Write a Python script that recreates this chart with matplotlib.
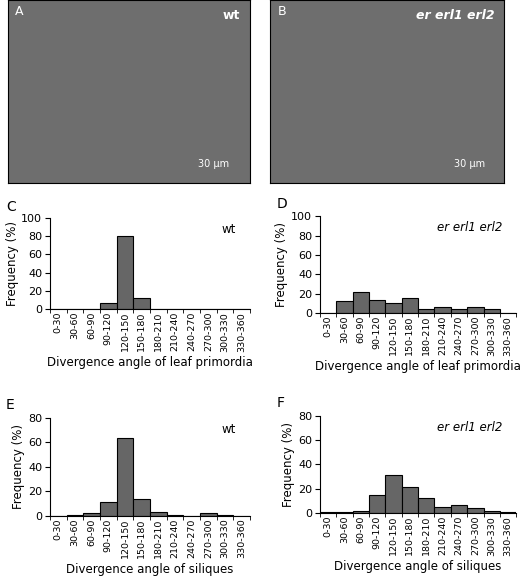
import numpy as np
import matplotlib
matplotlib.use("Agg")
import matplotlib.pyplot as plt

# ── Data ───────────────────────────────────────────────────────────────────────
BINS = ["0-30", "30-60", "60-90", "90-120", "120-150", "150-180",
        "180-210", "210-240", "240-270", "270-300", "300-330", "330-360"]
leaf_wt  = [0, 0, 0, 7, 80, 12, 0, 0, 0, 0, 0, 0]
leaf_mut = [0, 12, 22, 14, 10, 16, 4, 6, 4, 6, 4, 0]
sil_wt   = [0, 1, 2.5, 11, 64, 14, 3, 1, 0, 2.5, 1, 0]
sil_mut  = [1, 0.5, 2, 15, 31, 21, 12, 5, 7, 4, 2, 0.5]

fig = plt.figure(figsize=(5.2, 5.83), dpi=100)

# ── SEM image placeholders ─────────────────────────────────────────────────────
for rect, letter, tag, italic in [((0.015, 0.686, 0.465, 0.314), "A", "wt", False),
                                  ((0.52, 0.686, 0.45, 0.314), "B", "er erl1 erl2", True)]:
    ax = fig.add_axes(rect)
    ax.set_facecolor("#6e6e6e")
    ax.set_xticks([]); ax.set_yticks([])
    ax.text(0.03, 0.97, letter, transform=ax.transAxes, color="white", fontsize=9, va="top")
    ax.text(0.96, 0.95, tag, transform=ax.transAxes, color="white", fontsize=9, va="top",
            ha="right", weight="bold", style="italic" if italic else "normal")
    ax.text(0.85, 0.09, "30 µm", transform=ax.transAxes, color="white", fontsize=7, ha="center")

# ── Histograms ─────────────────────────────────────────────────────────────────
panels = [
    ((0.096, 0.47, 0.385, 0.156), leaf_wt, 100, "C", "wt", False, "Divergence angle of leaf primordia"),
    ((0.615, 0.463, 0.378, 0.166), leaf_mut, 100, "D", "er erl1 erl2", True, "Divergence angle of leaf primordia"),
    ((0.096, 0.115, 0.385, 0.168), sil_wt, 80, "E", "wt", False, "Divergence angle of siliques"),
    ((0.615, 0.12, 0.378, 0.167), sil_mut, 80, "F", "er erl1 erl2", True, "Divergence angle of siliques"),
]
x = np.arange(len(BINS))
for rect, vals, ymax, letter, tag, italic, xlabel in panels:
    ax = fig.add_axes(rect)
    ax.bar(x, vals, width=1.0, color="#666666", edgecolor="black", linewidth=0.8)
    ax.set_xlim(-0.5, len(BINS) - 0.5)
    ax.set_ylim(0, ymax)
    ax.set_yticks(np.arange(0, ymax + 1, 20))
    ax.set_xticks(x)
    ax.set_xticklabels(BINS, rotation=90, fontsize=6.8)
    ax.set_xticks(np.arange(-0.5, len(BINS)), minor=True)
    ax.tick_params(axis="x", which="major", length=0, pad=2)
    ax.tick_params(axis="x", which="minor", length=3)
    ax.tick_params(axis="y", labelsize=8, pad=2)
    for s in ("top", "right"):
        ax.spines[s].set_visible(False)
    ax.set_ylabel("Frequency (%)", fontsize=8.5, labelpad=2)
    ax.set_xlabel(xlabel, fontsize=8.5, labelpad=3)
    ax.text(0.93, 0.95, tag, transform=ax.transAxes, ha="right", va="top", fontsize=8.5,
            style="italic" if italic else "normal")
    ax.text(-0.22, 1.2, letter, transform=ax.transAxes, fontsize=10, va="top")

fig.savefig("out.png", dpi=100)
